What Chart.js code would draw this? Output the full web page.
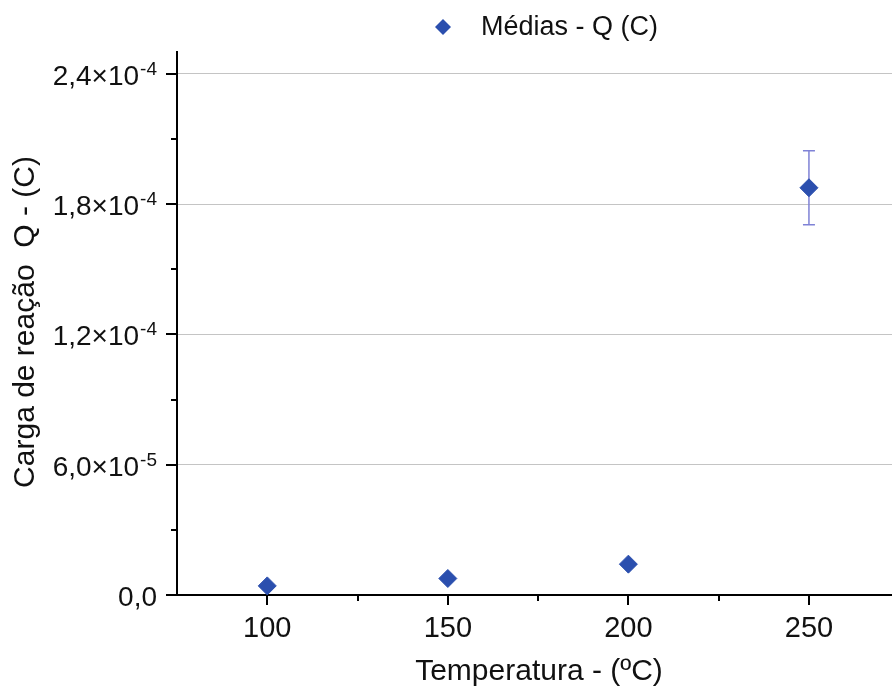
<!DOCTYPE html>
<html lang="pt">
<head>
  <meta charset="utf-8">
  <script src="https://cdn.jsdelivr.net/npm/chart.js"></script>
  <style>
    body { margin: 0; background: #fff; }
    #wrap { width: 892px; height: 687px; position: relative; }
  </style>
</head>
<body>
  <div id="wrap"><canvas id="grafico"></canvas></div>

  <script>
    // dados: médias da carga de reação por temperatura
    const temperaturas = [100, 150, 200, 250];
    const mediasQ = [4.2e-6, 7.6e-6, 1.42e-5, 1.875e-4];
    const erroQ = [0, 0, 0, 1.7e-5];

    // marcas dos eixos
    const xTicks = [100, 150, 200, 250];
    const xTicksMenores = [125, 175, 225];
    const yTicks = [0, 6e-5, 1.2e-4, 1.8e-4, 2.4e-4];
    const yTicksMantissa = ['0,0', '6,0×10', '1,2×10', '1,8×10', '2,4×10'];
    const yTicksExpoente = ['', '-5', '-4', '-4', '-4'];
    const yTicksMenores = [3e-5, 9e-5, 1.5e-4, 2.1e-4];

    const FONTE = "'Liberation Sans', Arial, sans-serif";
    const AZUL = '#2b4fae';
    const COR_ERRO = '#7f82d6';

    const eixosPlugin = {
      id: 'eixosOrigin',
      beforeDatasetsDraw(chart) {
        // barras de erro por baixo dos pontos
        const ctx = chart.ctx;
        const xs = chart.scales.x, ys = chart.scales.y;
        ctx.save();
        ctx.strokeStyle = COR_ERRO;
        ctx.lineWidth = 1.5;
        temperaturas.forEach((t, i) => {
          if (!erroQ[i]) return;
          const px = xs.getPixelForValue(t);
          const top = ys.getPixelForValue(mediasQ[i] + erroQ[i]);
          const bot = ys.getPixelForValue(mediasQ[i] - erroQ[i]);
          ctx.beginPath();
          ctx.moveTo(px, top); ctx.lineTo(px, bot);
          ctx.moveTo(px - 6, top); ctx.lineTo(px + 6, top);
          ctx.moveTo(px - 6, bot); ctx.lineTo(px + 6, bot);
          ctx.stroke();
        });
        ctx.restore();
      },
      afterDraw(chart) {
        const ctx = chart.ctx;
        const xs = chart.scales.x, ys = chart.scales.y;
        const area = chart.chartArea;
        ctx.save();
        ctx.strokeStyle = '#000';
        ctx.lineWidth = 2;

        // marcas do eixo x
        ctx.beginPath();
        xTicks.forEach(v => {
          const px = Math.round(xs.getPixelForValue(v));
          ctx.moveTo(px, area.bottom); ctx.lineTo(px, area.bottom + 10);
        });
        xTicksMenores.forEach(v => {
          const px = Math.round(xs.getPixelForValue(v));
          ctx.moveTo(px, area.bottom); ctx.lineTo(px, area.bottom + 6);
        });
        // marcas do eixo y
        yTicks.forEach(v => {
          const py = Math.round(ys.getPixelForValue(v));
          ctx.moveTo(area.left - 11, py); ctx.lineTo(area.left, py);
        });
        yTicksMenores.forEach(v => {
          const py = Math.round(ys.getPixelForValue(v));
          ctx.moveTo(area.left - 6, py); ctx.lineTo(area.left, py);
        });
        ctx.stroke();

        ctx.fillStyle = '#111';

        // rótulos do eixo x
        ctx.font = '29px ' + FONTE;
        ctx.textAlign = 'center';
        ctx.textBaseline = 'alphabetic';
        xTicks.forEach(v => {
          ctx.fillText(String(v), xs.getPixelForValue(v), area.bottom + 42);
        });

        // rótulos do eixo y, com expoente sobrescrito
        const direita = area.left - 20;
        yTicks.forEach((v, i) => {
          const py = ys.getPixelForValue(v);
          ctx.font = '19px ' + FONTE;
          const wExp = yTicksExpoente[i] ? ctx.measureText(yTicksExpoente[i]).width + 1 : 0;
          ctx.textAlign = 'right';
          if (wExp) ctx.fillText(yTicksExpoente[i], direita, py + 1);
          ctx.font = '28px ' + FONTE;
          ctx.fillText(yTicksMantissa[i], direita - wExp, py + 11);
        });

        // títulos dos eixos
        ctx.font = '30px ' + FONTE;
        ctx.textAlign = 'center';
        ctx.fillText('Temperatura - (ºC)', 539, 680);
        ctx.save();
        ctx.translate(34, 322);
        ctx.rotate(-Math.PI / 2);
        ctx.fillText('Carga de reação  Q - (C)', 0, 0);
        ctx.restore();

        // legenda
        ctx.fillStyle = AZUL;
        ctx.beginPath();
        ctx.moveTo(443, 19); ctx.lineTo(451, 27); ctx.lineTo(443, 35); ctx.lineTo(435, 27);
        ctx.closePath();
        ctx.fill();
        ctx.fillStyle = '#111';
        ctx.textAlign = 'left';
        ctx.textBaseline = 'middle';
        ctx.font = '27px ' + FONTE;
        ctx.fillText('Médias - Q (C)', 481, 28);
        ctx.restore();
      }
    };

    new Chart(document.getElementById('grafico'), {
      type: 'scatter',
      data: {
        datasets: [{
          label: 'Médias - Q (C)',
          data: temperaturas.map((t, i) => ({ x: t, y: mediasQ[i] })),
          pointStyle: 'rectRot',
          pointRadius: 9,
          pointHoverRadius: 9,
          backgroundColor: AZUL,
          borderColor: AZUL,
          borderWidth: 1,
          clip: false
        }]
      },
      options: {
        responsive: true,
        maintainAspectRatio: false,
        animation: false,
        layout: { autoPadding: false, padding: { top: 52, right: 0, left: 0, bottom: 0 } },
        plugins: { legend: { display: false }, tooltip: { enabled: false } },
        scales: {
          x: {
            type: 'linear',
            min: 75,
            max: 273,
            ticks: { display: false },
            grid: { display: false, drawTicks: false },
            border: { display: true, color: '#000', width: 2 },
            afterFit(scale) { scale.height = 92; }
          },
          y: {
            min: 0,
            max: 2.5e-4,
            ticks: { display: false, stepSize: 6e-5 },
            grid: {
              drawTicks: false,
              lineWidth: 1,
              color(c) {
                const v = c.tick ? c.tick.value : 0;
                const k = v / 6e-5;
                return (v > 0 && Math.abs(k - Math.round(k)) < 1e-6) ? '#c4c4c4' : 'rgba(0,0,0,0)';
              }
            },
            border: { display: true, color: '#000', width: 2 },
            afterFit(scale) { scale.width = 177; }
          }
        }
      },
      plugins: [eixosPlugin]
    });
  </script>
</body>
</html>
